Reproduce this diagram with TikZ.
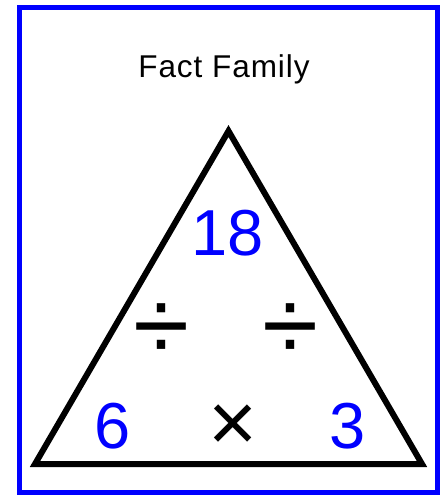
\documentclass[tikz,border=0pt]{standalone}
\usepackage{fontspec}
\setmainfont{Liberation Sans}
\usepackage{tikz}
\definecolor{FactBlue}{RGB}{0,0,255}

\begin{document}
\begin{tikzpicture}[
  x=1pt, y=-1pt,
  frame/.style={draw=FactBlue, line width=5pt},
  tri/.style={draw=black, line width=6pt, line join=miter},
  num/.style={text=FactBlue, inner sep=0pt, anchor=center, font=\fontsize{65}{65}\selectfont},
  op/.style={text=black, inner sep=0pt, anchor=center},
]
  \useasboundingbox (0,0) rectangle (444,496);
  % -------- frame and title --------
  \draw[frame] (19,7.5) rectangle (437,492.5);
  \node[anchor=base, inner sep=0pt, font=\fontsize{31.5}{31.5}\selectfont\addfontfeature{LetterSpace=3}] (title) at (224,77) {Fact Family};

  % -------- triangle --------
  \coordinate (top) at (228.5,131);
  \coordinate (bl) at (35,464);
  \coordinate (br) at (422,464);
  \draw[tri] (top) -- (bl) -- (br) -- cycle;

  % -------- numbers --------
  \node[num] (prod) at (227.5,233.5) {18};
  \node[num] (fa) at (112.5,426.5) {6};
  \node[num] (fb) at (348,426.5) {3};

  % -------- operations --------
  \node[op, font=\fontsize{84}{84}\selectfont] (times) at (233,428) {×};
  \node[op, font=\fontsize{102}{102}\selectfont] (divl) at (161.5,332) {÷};
  \node[op, font=\fontsize{102}{102}\selectfont] (divr) at (290,332) {÷};
\end{tikzpicture}
\end{document}
